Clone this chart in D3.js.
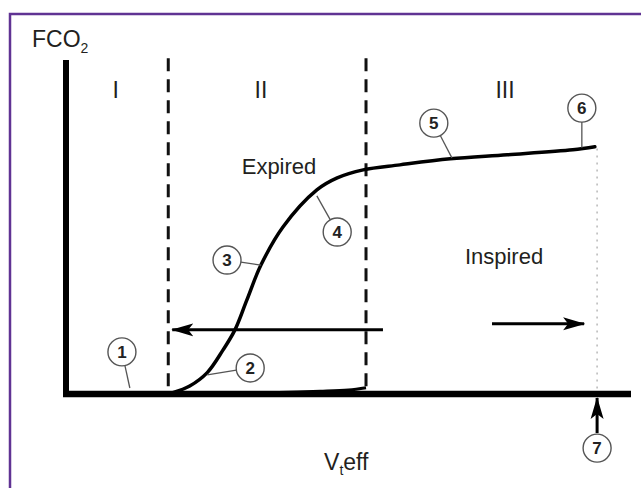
<!DOCTYPE html>
<html>
<head>
<meta charset="utf-8">
<script src="https://cdn.jsdelivr.net/npm/d3@7/dist/d3.min.js"></script>
<style>
  html, body { margin: 0; padding: 0; background: #fff; }
  text { font-family: "Liberation Sans", Arial, sans-serif; fill: #231f20; }
</style>
</head>
<body>
<svg id="chart"></svg>
<script>
// expired CO2 curve (x = exhaled volume, y = FCO2)
const curveX = [18.9, 21.9, 25.0, 27.8, 29.9, 32.0, 34.5, 38.4, 44.4, 48.0, 52.6, 59.1, 68.0, 78.1, 89.7, 93.6];
const curveY = [0.4, 2.4, 6.4, 13.2, 19.2, 28.1, 38.6, 50.0, 61.1, 64.7, 67.1, 68.6, 70.4, 71.6, 73.1, 74.0];

// short baseline piece before the phase II/III boundary
const baseX = [36.0, 45.0, 50.0, 53.1];
const baseY = [0.4, 0.8, 1.2, 1.9];

// phase boundaries
const phaseBounds = [18.1, 53.1];
const endVolume = 94.0;
const endFco2 = 73.5;

const phaseNames = ["I", "II", "III"];
const phaseLabelX = [8.8, 34.5, 77.7];
const phaseLabelY = 88.6;

// numbered callouts: circle centre and the point they point at
const calloutIds = ["1", "2", "3", "4", "5", "6", "7"];
const calloutX = [9.9, 32.6, 28.5, 48.0, 65.1, 91.3, 94.0];
const calloutY = [12.6, 7.8, 40.1, 48.5, 81.1, 85.6, -16.2];
const targetX = [11.3, 25.0, 34.5, 44.4, 68.3, 91.3, null];
const targetY = [1.8, 5.7, 38.6, 59.3, 70.7, 73.7, null];

// flow arrows
const arrowNames = ["Expired", "Inspired"];
const arrowFrom = [[56.1, 19.2], [75.4, 21.0]];
const arrowTo = [[18.8, 19.2], [91.7, 21.0]];
const textPos = [[31.1, 65.9], [70.6, 39.0]];

const W = 641, H = 488;
const svg = d3.select("#chart").attr("width", W).attr("height", H);

const x = d3.scaleLinear().domain([0, 100]).range([66, 631]);
const y = d3.scaleLinear().domain([0, 100]).range([394, 60]);

// purple frame (left + top)
svg.append("path")
  .attr("d", "M10," + H + " L10,14 L" + W + ",14")
  .attr("fill", "none")
  .attr("stroke", "#603393")
  .attr("stroke-width", 2.5);

// arrowhead marker
svg.append("defs")
  .append("marker")
  .attr("id", "head")
  .attr("viewBox", "0 0 22 14")
  .attr("refX", 21).attr("refY", 7)
  .attr("markerWidth", 22).attr("markerHeight", 14)
  .attr("markerUnits", "userSpaceOnUse")
  .attr("orient", "auto")
  .append("path")
  .attr("d", "M0,0.5 L22,7 L0,13.5 L5,7 Z")
  .attr("fill", "#000");

// dashed phase boundaries
svg.selectAll(".bound")
  .data(phaseBounds)
  .enter()
  .append("line")
  .attr("class", "bound")
  .attr("x1", (d) => x(d)).attr("x2", (d) => x(d))
  .attr("y1", y(100.5)).attr("y2", y(0))
  .attr("stroke", "#111")
  .attr("stroke-width", 3)
  .attr("stroke-dasharray", "13,8");

// dotted end of expiration
svg.append("line")
  .attr("x1", x(endVolume)).attr("x2", x(endVolume))
  .attr("y1", y(endFco2)).attr("y2", y(0))
  .attr("stroke", "#b8b8b8")
  .attr("stroke-width", 1.5)
  .attr("stroke-dasharray", "2,5");

// axes as thick lines
svg.append("line")
  .attr("x1", x(0)).attr("x2", x(0))
  .attr("y1", y(100)).attr("y2", y(0) + 3)
  .attr("stroke", "#000").attr("stroke-width", 6);
svg.append("line")
  .attr("x1", x(0) - 3).attr("x2", 631)
  .attr("y1", y(0)).attr("y2", y(0))
  .attr("stroke", "#000").attr("stroke-width", 6.5);

// curve
const line = d3.line()
  .x((d) => x(d[0]))
  .y((d) => y(d[1]))
  .curve(d3.curveCatmullRom.alpha(0.5));

svg.append("path")
  .datum(curveX.map((v, i) => [v, curveY[i]]))
  .attr("d", line)
  .attr("fill", "none")
  .attr("stroke", "#000")
  .attr("stroke-width", 3.5)
  .attr("stroke-linecap", "round");

svg.append("path")
  .datum(baseX.map((v, i) => [v, baseY[i]]))
  .attr("d", line)
  .attr("fill", "none")
  .attr("stroke", "#000")
  .attr("stroke-width", 3);

// flow arrows
svg.selectAll(".flow")
  .data(arrowNames)
  .enter()
  .append("line")
  .attr("class", "flow")
  .attr("x1", (d, i) => x(arrowFrom[i][0]))
  .attr("y1", (d, i) => y(arrowFrom[i][1]))
  .attr("x2", (d, i) => x(arrowTo[i][0]))
  .attr("y2", (d, i) => y(arrowTo[i][1]))
  .attr("stroke", "#000")
  .attr("stroke-width", 3)
  .attr("marker-end", "url(#head)");

svg.selectAll(".flowtext")
  .data(arrowNames)
  .enter()
  .append("text")
  .attr("class", "flowtext")
  .attr("x", (d, i) => x(textPos[i][0]))
  .attr("y", (d, i) => y(textPos[i][1]))
  .attr("font-size", 22)
  .text((d) => d);

// phase numerals
svg.selectAll(".phase")
  .data(phaseNames)
  .enter()
  .append("text")
  .attr("class", "phase")
  .attr("x", (d, i) => x(phaseLabelX[i]))
  .attr("y", y(phaseLabelY))
  .attr("text-anchor", "middle")
  .attr("font-size", 23)
  .text((d) => d);

// arrow 7 pointing up at the axis
svg.append("line")
  .attr("x1", x(endVolume)).attr("x2", x(endVolume))
  .attr("y1", y(calloutY[6]) - 15).attr("y2", y(0) + 4)
  .attr("stroke", "#000")
  .attr("stroke-width", 3)
  .attr("marker-end", "url(#head)");

// callouts
const r = 14;
const callouts = calloutIds.map((id, i) => ({
  id: id,
  cx: x(calloutX[i]),
  cy: y(calloutY[i]),
  tx: targetX[i] == null ? null : x(targetX[i]),
  ty: targetY[i] == null ? null : y(targetY[i])
}));

svg.selectAll(".leader")
  .data(callouts.filter((d) => d.tx != null))
  .enter()
  .append("line")
  .attr("class", "leader")
  .attr("x1", (d) => {
    const a = Math.atan2(d.ty - d.cy, d.tx - d.cx);
    return d.cx + r * Math.cos(a);
  })
  .attr("y1", (d) => {
    const a = Math.atan2(d.ty - d.cy, d.tx - d.cx);
    return d.cy + r * Math.sin(a);
  })
  .attr("x2", (d) => d.tx)
  .attr("y2", (d) => d.ty)
  .attr("stroke", "#555")
  .attr("stroke-width", 1.3);

const cg = svg.selectAll(".callout")
  .data(callouts)
  .enter()
  .append("g")
  .attr("class", "callout")
  .attr("transform", (d) => "translate(" + d.cx + "," + d.cy + ")");

cg.append("circle")
  .attr("r", r)
  .attr("fill", "#fff")
  .attr("stroke", "#555")
  .attr("stroke-width", 1.4);

cg.append("text")
  .attr("text-anchor", "middle")
  .attr("dy", "0.36em")
  .attr("font-size", 17)
  .attr("font-weight", "bold")
  .style("fill", "#222")
  .text((d) => d.id);

// axis titles
const yTitle = svg.append("text")
  .attr("x", x(0) - 34)
  .attr("y", y(100) - 13)
  .attr("font-size", 23);
yTitle.append("tspan").text("FCO");
yTitle.append("tspan").attr("font-size", 14).attr("dy", 6).text("2");

const xTitle = svg.append("text")
  .attr("x", x(49.6))
  .attr("y", y(0) + 76)
  .attr("text-anchor", "middle")
  .attr("font-size", 23);
xTitle.append("tspan").text("V");
xTitle.append("tspan").attr("font-size", 14).attr("dy", 5).text("t");
xTitle.append("tspan").attr("dy", -5).text("eff");
</script>
</body>
</html>
